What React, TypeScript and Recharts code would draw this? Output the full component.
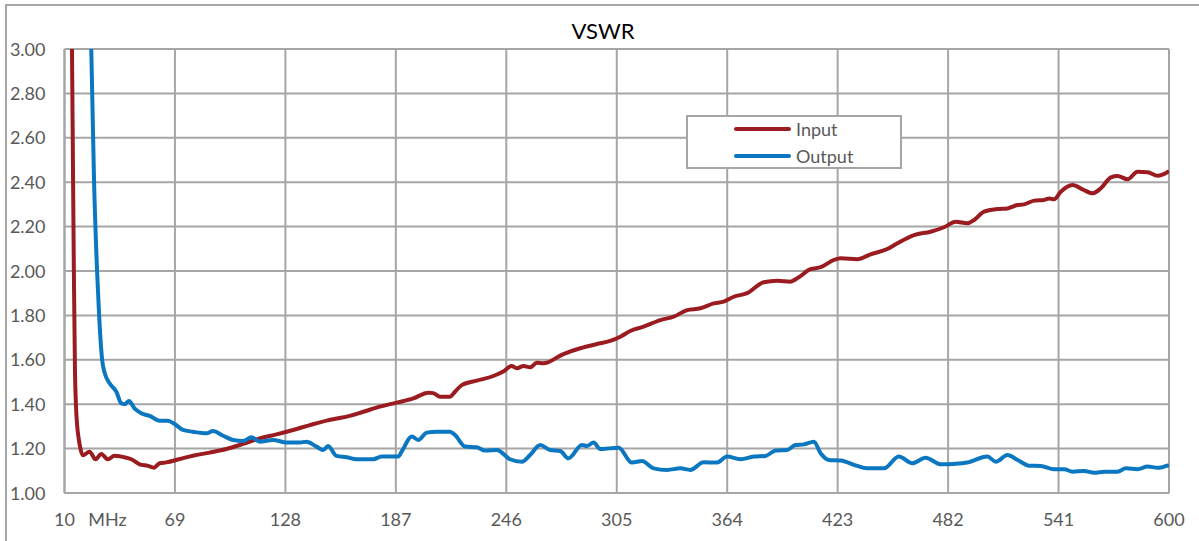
import React from 'react';
import { LineChart, Line, XAxis, YAxis, CartesianGrid } from 'recharts';

const xTicks = [10, 69, 128, 187, 246, 305, 364, 423, 482, 541, 600];
const yTicks = [1.0, 1.2, 1.4, 1.6, 1.8, 2.0, 2.2, 2.4, 2.6, 2.8, 3.0];

const inputFreq = [
  14.0, 15.0, 15.6, 16.1, 16.8, 17.5, 18.5, 19.8, 23.4, 26.6, 29.6, 33.2, 36.7, 43.0, 45.7, 50.1,
  54.6, 57.8, 60.8, 64.4, 71.5, 78.6, 87.6, 96.5, 105.4, 114.3, 123.2, 132.1, 141.1, 150.0, 157.1,
  160.7, 169.6, 178.5, 187.4, 196.3, 204.3, 207.0, 210.6, 215.9, 218.6, 222.2, 230.2, 239.1, 244.4,
  248.9, 251.6, 255.2, 258.7, 262.3, 265.8, 276.5, 285.5, 294.4, 301.5, 306.9, 312.2, 319.3, 328.3,
  335.4, 342.6, 349.7, 356.8, 362.1, 367.5, 374.6, 383.5, 390.7, 397.8, 401.4, 408.5, 413.9, 421.0,
  424.6, 433.5, 440.6, 449.5, 454.9, 463.8, 472.7, 479.8, 486.1, 492.3, 495.9, 501.2, 508.4, 513.7,
  519.1, 522.6, 528.0, 533.3, 536.0, 538.6, 542.2, 548.5, 553.8, 559.2, 563.6, 569.0, 572.5, 577.9,
  583.2, 588.6, 593.9, 600.0,
];
const inputVswr = [
  3.0, 2.0, 1.55, 1.4, 1.3, 1.25, 1.2, 1.17, 1.186, 1.152, 1.176, 1.152, 1.168, 1.159, 1.152, 1.129,
  1.122, 1.114, 1.134, 1.138, 1.153, 1.168, 1.182, 1.198, 1.221, 1.246, 1.264, 1.284, 1.306, 1.326, 1.338,
  1.344, 1.366, 1.389, 1.407, 1.426, 1.452, 1.45, 1.434, 1.434, 1.456, 1.486, 1.506, 1.527, 1.547,
  1.572, 1.562, 1.572, 1.566, 1.587, 1.584, 1.626, 1.652, 1.671, 1.685, 1.704, 1.73, 1.749, 1.779,
  1.794, 1.824, 1.832, 1.854, 1.862, 1.884, 1.9, 1.949, 1.956, 1.952, 1.967, 2.008, 2.017, 2.05,
  2.057, 2.053, 2.075, 2.099, 2.125, 2.162, 2.177, 2.197, 2.222, 2.215, 2.23, 2.267, 2.279, 2.282,
  2.297, 2.3, 2.317, 2.32, 2.327, 2.323, 2.357, 2.387, 2.368, 2.35, 2.373, 2.422, 2.428, 2.413,
  2.447, 2.445, 2.429, 2.45,
];

const outputFreq = [
  24.3, 25.8, 27.4, 28.5, 30.1, 31.5, 34.1, 37.7, 40.3, 42.1, 44.4, 47.4, 51.0, 55.5, 60.8, 65.3,
  68.8, 73.3, 78.6, 85.8, 89.3, 94.7, 100.0, 105.4, 109.9, 114.3, 121.4, 128.6, 135.7, 139.3, 144.6,
  148.2, 150.8, 155.3, 160.7, 166.0, 174.9, 179.4, 188.3, 190.1, 195.5, 199.0, 203.5, 208.8, 215.9,
  218.6, 224.0, 230.2, 234.7, 240.9, 248.0, 254.3, 258.7, 264.1, 269.4, 274.8, 279.2, 286.4, 289.1,
  292.6, 296.2, 300.6, 306.0, 313.1, 318.5, 324.7, 331.9, 339.0, 344.3, 351.4, 358.6, 363.9, 371.1,
  378.2, 384.4, 389.8, 396.0, 400.5, 404.9, 410.3, 413.9, 418.3, 424.6, 433.5, 438.9, 447.7, 455.7,
  462.9, 470.0, 478.1, 485.2, 492.3, 503.0, 507.5, 513.7, 519.1, 525.3, 531.5, 538.6, 544.0, 548.5,
  554.7, 560.0, 565.4, 572.5, 577.0, 583.2, 588.6, 593.9, 600.0,
];
const outputVswr = [
  3.0, 2.4, 2.0, 1.8, 1.6, 1.54, 1.494, 1.456, 1.404, 1.4, 1.414, 1.381, 1.359, 1.347, 1.326, 1.326,
  1.311, 1.284, 1.276, 1.269, 1.279, 1.258, 1.239, 1.234, 1.251, 1.231, 1.239, 1.227, 1.227, 1.231, 1.209,
  1.194, 1.212, 1.167, 1.161, 1.152, 1.152, 1.164, 1.164, 1.186, 1.254, 1.239, 1.272, 1.276, 1.276,
  1.261, 1.209, 1.206, 1.191, 1.194, 1.152, 1.141, 1.171, 1.216, 1.194, 1.189, 1.156, 1.216, 1.212,
  1.227, 1.198, 1.201, 1.204, 1.137, 1.144, 1.111, 1.104, 1.111, 1.104, 1.138, 1.137, 1.164, 1.152,
  1.164, 1.167, 1.191, 1.194, 1.216, 1.219, 1.231, 1.179, 1.149, 1.146, 1.122, 1.111, 1.111, 1.164,
  1.134, 1.159, 1.129, 1.131, 1.137, 1.164, 1.141, 1.171, 1.149, 1.123, 1.122, 1.107, 1.107, 1.096,
  1.099, 1.091, 1.096, 1.096, 1.111, 1.107, 1.119, 1.114, 1.126,
];

const inputData = inputFreq.map((f, i) => ({ f, v: inputVswr[i] }));
const outputData = outputFreq.map((f, i) => ({ f, v: outputVswr[i] }));

const FONT = "Lato, 'Open Sans', sans-serif";
const GRID = '#a6a6a6';
const LABEL = '#595959';
const RED = '#9b1c20';
const BLUE = '#0b77c1';

const YTick = (props: any) => {
  const { x, y, payload } = props;
  return (
    <text x={x} y={y} dy={6.5} textAnchor="end" fill={LABEL} fontSize={18} fontFamily={FONT}>
      {Number(payload.value).toFixed(2)}
    </text>
  );
};

const XTick = (props: any) => {
  const { x, y, payload } = props;
  return (
    <g>
      <text x={x} y={y} dy={32.5} textAnchor="middle" fill={LABEL} fontSize={18} fontFamily={FONT}>
        {payload.value}
      </text>
      {payload.value === 10 && (
        <text x={x + 43} y={y} dy={32.5} textAnchor="middle" fill={LABEL} fontSize={18} fontFamily={FONT}>
          MHz
        </text>
      )}
    </g>
  );
};

// legend box drawn on top of the plot, like the Excel one
const LegendBox = () => {
  const items = [
    { name: 'Input', color: RED },
    { name: 'Output', color: BLUE },
  ];
  return (
    <div
      style={{
        position: 'absolute',
        left: 686,
        top: 115,
        width: 216,
        height: 54,
        boxSizing: 'border-box',
        border: `2px solid ${GRID}`,
        background: '#fff',
        fontFamily: FONT,
      }}
    >
      {items.map((it, i) => (
        <div key={it.name} style={{ position: 'absolute', left: 0, top: 1 + i * 27, height: 22, width: '100%' }}>
          <div
            style={{
              position: 'absolute',
              left: 46,
              top: 9,
              width: 57,
              height: 4,
              borderRadius: 2,
              background: it.color,
            }}
          />
          <span style={{ position: 'absolute', left: 108, top: 0, fontSize: 18, lineHeight: '22px', color: LABEL }}>
            {it.name}
          </span>
        </div>
      ))}
    </div>
  );
};

export default function App() {
  return (
    <div style={{ position: 'fixed', left: 0, top: 0, width: 1199, height: 541, background: '#fff', overflow: 'hidden' }}>
      <div
        style={{
          position: 'absolute',
          left: 5,
          top: 4,
          width: 1300,
          height: 700,
          border: `2px solid ${GRID}`,
        }}
      />
      <div
        style={{
          position: 'absolute',
          left: 0,
          width: 1206,
          top: 17,
          textAlign: 'center',
          fontFamily: FONT,
          fontSize: 22,
          lineHeight: '28px',
          color: '#000',
        }}
      >
        VSWR
      </div>
      <div style={{ position: 'absolute', left: 0, top: 0 }}>
        <LineChart width={1199} height={541} margin={{ top: 49, right: 30, bottom: 0, left: 0.5 }}>
          <CartesianGrid stroke={GRID} strokeWidth={2} />
          <XAxis
            dataKey="f"
            type="number"
            domain={[10, 600]}
            ticks={xTicks}
            allowDataOverflow
            height={48}
            tickSize={0}
            tickMargin={0}
            tickLine={false}
            axisLine={{ stroke: GRID, strokeWidth: 2 }}
            tick={<XTick />}
          />
          <YAxis
            type="number"
            domain={[1, 3]}
            ticks={yTicks}
            allowDataOverflow
            width={64}
            tickSize={0}
            tickMargin={19}
            tickLine={false}
            axisLine={{ stroke: GRID, strokeWidth: 2 }}
            tick={<YTick />}
          />
          <Line
            data={inputData}
            dataKey="v"
            name="Input"
            type="monotone"
            stroke={RED}
            strokeWidth={4}
            dot={false}
            isAnimationActive={false}
          />
          <Line
            data={outputData}
            dataKey="v"
            name="Output"
            type="monotone"
            stroke={BLUE}
            strokeWidth={4}
            dot={false}
            isAnimationActive={false}
          />
        </LineChart>
      </div>
      <LegendBox />
    </div>
  );
}
